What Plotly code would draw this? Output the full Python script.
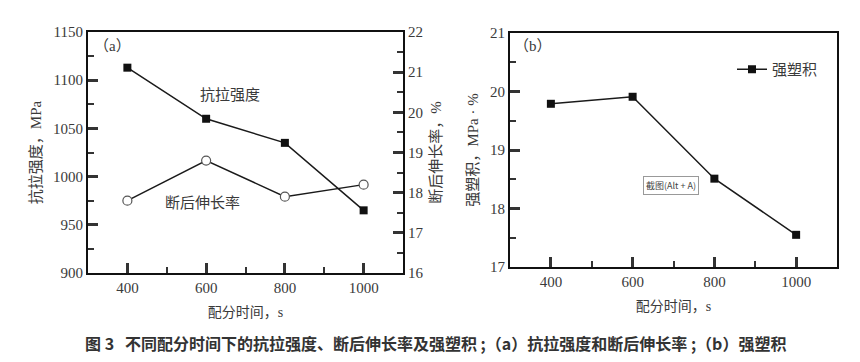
import plotly.graph_objects as go

time_s = [400, 600, 800, 1000]
tensile_mpa = [1113, 1060, 1035, 965]
elongation_pct = [17.8, 18.8, 17.9, 18.2]
pse = [19.79, 19.91, 18.51, 17.55]

SERIF = "Liberation Serif, Noto Sans CJK SC, serif"
TXT = "#3a3a3a"
H = 362
W = 860
OFF = 8  # page body margin

def px(x):
    return (x - OFF) / W

def py(y):
    return 1 - (y - OFF) / H

fig = go.Figure()
fig.add_trace(go.Scatter(x=time_s, y=tensile_mpa, mode="lines+markers", xaxis="x", yaxis="y",
                         line=dict(color="#1a1a1a", width=1.5),
                         marker=dict(symbol="square", size=8, color="#111"), showlegend=False))
fig.add_trace(go.Scatter(x=time_s, y=elongation_pct, mode="lines+markers", xaxis="x", yaxis="y2",
                         line=dict(color="#1a1a1a", width=1.5),
                         marker=dict(symbol="circle", size=9, color="white", line=dict(color="#555", width=1.2)),
                         showlegend=False))
fig.add_trace(go.Scatter(x=time_s, y=pse, mode="lines+markers", xaxis="x3", yaxis="y3", name="强塑积",
                         line=dict(color="#1a1a1a", width=1.5),
                         marker=dict(symbol="square", size=8, color="#111"), showlegend=True))

tf = dict(family=SERIF, size=15, color=TXT)
axis_common = dict(showgrid=False, zeroline=False, showline=True, linecolor="#111", linewidth=2,
                   ticks="inside", ticklen=10, tickwidth=2.5, tickcolor="#333", automargin=False,
                   tickfont=tf)
minor_common = dict(ticks="inside", ticklen=6, tickwidth=2, tickcolor="#333")

fig.update_layout(
    width=W, height=H, margin=dict(l=0, r=0, t=0, b=0),
    paper_bgcolor="white", plot_bgcolor="white",
    xaxis=dict(domain=[px(88), px(403)], range=[300, 1100], tickvals=[400, 600, 800, 1000],
               minor=dict(dtick=100, tick0=300, **minor_common),
               mirror=True, anchor="y",
               title=dict(text="配分时间，s", font=dict(family=SERIF, size=14, color=TXT), standoff=12),
               **axis_common),
    yaxis=dict(domain=[py(273), py(32)], range=[900, 1150], dtick=50, anchor="x",
               minor=dict(dtick=25, **minor_common),
               title=dict(text="抗拉强度，MPa", font=dict(family=SERIF, size=15, color=TXT), standoff=8),
               **axis_common),
    yaxis2=dict(domain=[py(273), py(32)], range=[16, 22], dtick=1, overlaying="y", side="right", anchor="x",
                minor=dict(dtick=0.5, **minor_common),
                title=dict(text="断后伸长率，%", font=dict(family=SERIF, size=15, color=TXT), standoff=8),
                **axis_common),
    xaxis3=dict(domain=[px(510), px(837)], range=[300, 1100], tickvals=[400, 600, 800, 1000], anchor="y3",
                minor=dict(dtick=100, tick0=300, **minor_common),
                mirror=True,
                title=dict(text="配分时间，s", font=dict(family=SERIF, size=14, color=TXT), standoff=12),
                **axis_common),
    yaxis3=dict(domain=[py(267), py(33)], range=[17, 21], dtick=1, anchor="x3", mirror=True,
                minor=dict(dtick=0.5, **minor_common),
                title=dict(text="强塑积，MPa · %", font=dict(family=SERIF, size=15, color=TXT), standoff=8),
                **axis_common),
    legend=dict(x=px(732), y=py(53), xanchor="left", yanchor="top", bgcolor="rgba(0,0,0,0)",
                font=dict(family=SERIF, size=15, color=TXT), itemwidth=30),
)

annots = [
    dict(x=px(92), y=py(46), text="（a）", size=15),
    dict(x=px(512), y=py(46), text="（b）", size=15),
    dict(x=px(198), y=py(95), text="抗拉强度", size=15),
    dict(x=px(163), y=py(203), text="断后伸长率", size=15),
]
for a in annots:
    fig.add_annotation(x=a["x"], y=a["y"], xref="paper", yref="paper", text=a["text"], showarrow=False,
                       xanchor="left", yanchor="middle", font=dict(family=SERIF, size=a["size"], color=TXT))

fig.add_annotation(x=px(643), y=py(185), xref="paper", yref="paper", text="截图(Alt + A)", showarrow=False,
                   xanchor="left", yanchor="middle", font=dict(family="Noto Sans CJK SC", size=9, color="#444"),
                   bgcolor="white", bordercolor="#999", borderwidth=1, borderpad=2)

fig.add_annotation(x=px(435), y=py(343), xref="paper", yref="paper",
                   text="<b>图 3   不同配分时间下的抗拉强度、断后伸长率及强塑积 ;（a）抗拉强度和断后伸长率 ;（b）强塑积</b>",
                   showarrow=False, xanchor="center", yanchor="middle",
                   font=dict(family="Noto Sans CJK SC", size=16, color="#333"))

fig.write_html("out.html")
